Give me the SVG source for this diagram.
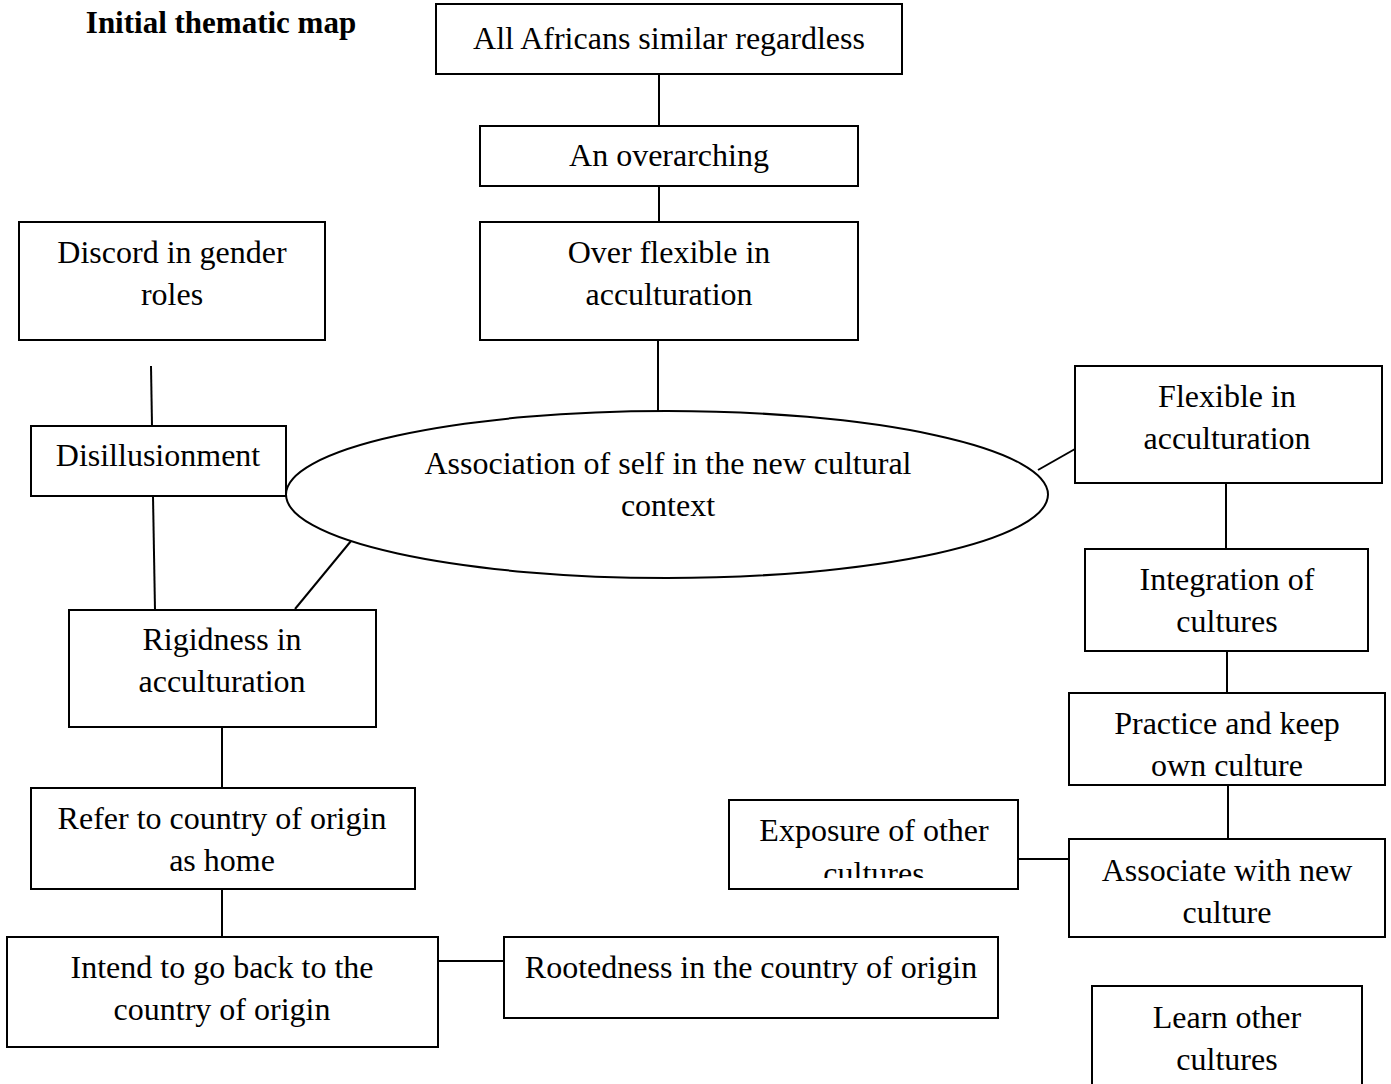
<svg xmlns="http://www.w3.org/2000/svg" width="1391" height="1084" viewBox="0 0 1391 1084">
<style>
.b{fill:#fff;stroke:#000;stroke-width:2}
.t{font-family:"Liberation Serif","Times New Roman",serif;font-size:32px;fill:#000;text-anchor:middle}
.h{font-weight:bold;font-size:31px}
.c line{stroke:#000;stroke-width:2}
</style>
<defs>
<clipPath id="clipExp"><rect x="729" y="800" width="289" height="78"/></clipPath>
</defs>
<rect width="1391" height="1084" fill="#fff"/>
<text class="t h" x="221" y="33">Initial thematic map</text>
<g class="c" id="connectors">
<line x1="659" y1="74" x2="659" y2="126"/>
<line x1="659" y1="186" x2="659" y2="222"/>
<line x1="658" y1="340" x2="658" y2="411"/>
<line x1="151" y1="366" x2="152" y2="426"/>
<line x1="153" y1="496" x2="155" y2="610"/>
<line x1="351" y1="541" x2="295" y2="609"/>
<line x1="1038" y1="470" x2="1075" y2="449"/>
<line x1="1226" y1="483" x2="1226" y2="549"/>
<line x1="1227" y1="651" x2="1227" y2="693"/>
<line x1="1228" y1="785" x2="1228" y2="839"/>
<line x1="1018" y1="859" x2="1069" y2="859"/>
<line x1="222" y1="727" x2="222" y2="788"/>
<line x1="222" y1="889" x2="222" y2="937"/>
<line x1="438" y1="961" x2="504" y2="961"/>
</g>
<g id="all-africans"><rect class="b" x="436" y="4" width="466" height="70"/><text class="t" x="669" y="49">All Africans similar regardless</text></g>
<g id="overarching"><rect class="b" x="480" y="126" width="378" height="60"/><text class="t" x="669" y="166">An overarching</text></g>
<g id="over-flexible"><rect class="b" x="480" y="222" width="378" height="118"/><text class="t" x="669" y="263">Over flexible in</text><text class="t" x="669" y="305">acculturation</text></g>
<g id="discord"><rect class="b" x="19" y="222" width="306" height="118"/><text class="t" x="172" y="263">Discord in gender</text><text class="t" x="172" y="305">roles</text></g>
<g id="association"><ellipse class="b" cx="667" cy="494.5" rx="381" ry="83.5"/><text class="t" x="668" y="474">Association of self in the new cultural</text><text class="t" x="668" y="516">context</text></g>
<g id="disillusionment"><rect class="b" x="31" y="426" width="255" height="70"/><text class="t" x="158" y="466">Disillusionment</text></g>
<g id="rigidness"><rect class="b" x="69" y="610" width="307" height="117"/><text class="t" x="222" y="650">Rigidness in</text><text class="t" x="222" y="692">acculturation</text></g>
<g id="refer"><rect class="b" x="31" y="788" width="384" height="101"/><text class="t" x="222" y="829">Refer to country of origin</text><text class="t" x="222" y="871">as home</text></g>
<g id="intend"><rect class="b" x="7" y="937" width="431" height="110"/><text class="t" x="222" y="978">Intend to go back to the</text><text class="t" x="222" y="1020">country of origin</text></g>
<g id="rootedness"><rect class="b" x="504" y="937" width="494" height="81"/><text class="t" x="751" y="978">Rootedness in the country of origin</text></g>
<g id="flexible"><rect class="b" x="1075" y="366" width="307" height="117"/><text class="t" x="1227" y="407">Flexible in</text><text class="t" x="1227" y="449">acculturation</text></g>
<g id="integration"><rect class="b" x="1085" y="549" width="283" height="102"/><text class="t" x="1227" y="590">Integration of</text><text class="t" x="1227" y="632">cultures</text></g>
<g id="practice"><rect class="b" x="1069" y="693" width="316" height="92"/><text class="t" x="1227" y="734">Practice and keep</text><text class="t" x="1227" y="776">own culture</text></g>
<g id="exposure"><rect class="b" x="729" y="800" width="289" height="89"/><g clip-path="url(#clipExp)"><text class="t" x="874" y="841">Exposure of other</text><text class="t" x="874" y="884">cultures</text></g></g>
<g id="associate"><rect class="b" x="1069" y="839" width="316" height="98"/><text class="t" x="1227" y="881">Associate with new</text><text class="t" x="1227" y="923">culture</text></g>
<g id="learn"><rect class="b" x="1092" y="986" width="270" height="110"/><text class="t" x="1227" y="1028">Learn other</text><text class="t" x="1227" y="1070">cultures</text></g>
</svg>
